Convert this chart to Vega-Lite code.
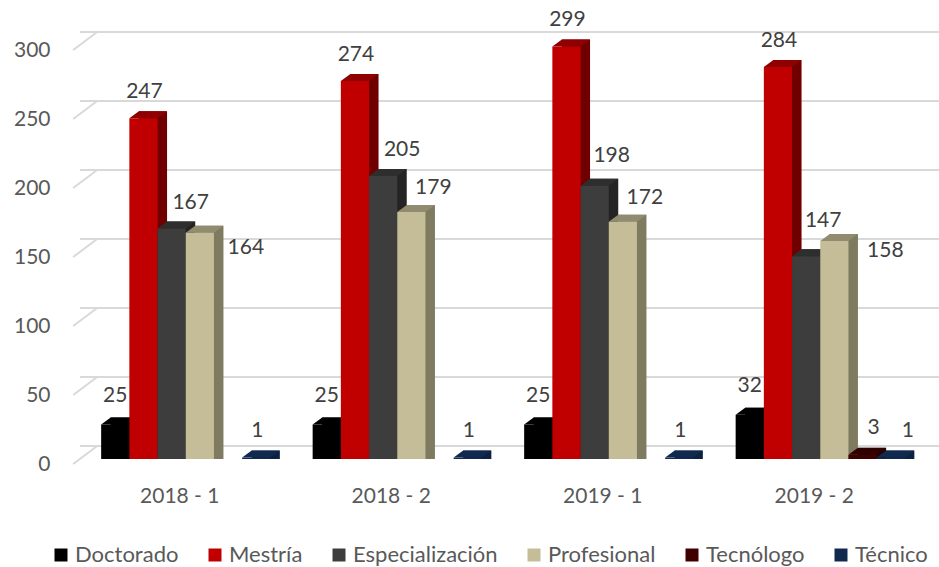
{"$schema":"https://vega.github.io/schema/vega-lite/v6.json","width":846,"height":414,"autosize":"none","padding":{"left":80,"top":45,"right":13,"bottom":108},"background":"white","config":{"view":{"stroke":null},"font":"Lato"},
"datasets":{"rows":[
{"p":"2018 - 1","s":"Doctorado","v":25},{"p":"2018 - 1","s":"Mestría","v":247},{"p":"2018 - 1","s":"Especialización","v":167},{"p":"2018 - 1","s":"Profesional","v":164},{"p":"2018 - 1","s":"Técnico","v":1},
{"p":"2018 - 2","s":"Doctorado","v":25},{"p":"2018 - 2","s":"Mestría","v":274},{"p":"2018 - 2","s":"Especialización","v":205},{"p":"2018 - 2","s":"Profesional","v":179},{"p":"2018 - 2","s":"Técnico","v":1},
{"p":"2019 - 1","s":"Doctorado","v":25},{"p":"2019 - 1","s":"Mestría","v":299},{"p":"2019 - 1","s":"Especialización","v":198},{"p":"2019 - 1","s":"Profesional","v":172},{"p":"2019 - 1","s":"Técnico","v":1},
{"p":"2019 - 2","s":"Doctorado","v":32},{"p":"2019 - 2","s":"Mestría","v":284},{"p":"2019 - 2","s":"Especialización","v":147},{"p":"2019 - 2","s":"Profesional","v":158},{"p":"2019 - 2","s":"Tecnólogo","v":3},{"p":"2019 - 2","s":"Técnico","v":1}],
"grid":[{"g":0},{"g":50},{"g":100},{"g":150},{"g":200},{"g":250},{"g":300}]},
"layer":[
{"data":{"name":"grid"},"mark":{"type":"rule","stroke":"#d9d9d9","strokeWidth":2,"xOffset":17,"x2Offset":9,"yOffset":-13},
 "encoding":{"y":{"field":"g","type":"quantitative","scale":{"domain":[0,300],"nice":false},"axis":{"title":null,"values":[0,50,100,150,200,250,300],"domain":false,"ticks":false,"grid":false,"labelPadding":30,"labelOffset":5,"labelFontSize":21,"labelColor":"#595959","labelFont":"Lato"}}}},
{"data":{"name":"grid"},"mark":{"type":"point","shape":"M-28,5L-4,-13","size":4,"filled":false,"stroke":"#d9d9d9","strokeWidth":2,"opacity":1},
 "encoding":{"x":{"datum":"2018 - 1","type":"nominal","bandPosition":0,"scale":{"domain":["2018 - 1","2018 - 2","2019 - 1","2019 - 2"],"paddingInner":0.2,"paddingOuter":0.1},"axis":{"title":null,"domain":false,"ticks":false,"labelAngle":0,"labelPadding":26,"labelOffset":-6,"labelFontSize":21,"labelColor":"#595959","labelFont":"Lato"}},"y":{"field":"g","type":"quantitative"}}},
{"data":{"name":"rows"},
 "encoding":{"x":{"field":"p","type":"nominal"},"xOffset":{"field":"s","type":"nominal","scale":{"type":"band","domain":["Doctorado","Mestría","Especialización","Profesional","Tecnólogo","Técnico"],"paddingInner":0,"paddingOuter":0}},"y":{"field":"v","type":"quantitative","stack":null}},
 "layer":[
 {"mark":{"type":"bar","yOffset":-7,"y2Offset":-7},"encoding":{"xOffset":{"field":"s","type":"nominal","scale":{"type":"band","domain":["Doctorado","Mestría","Especialización","Profesional","Tecnólogo","Técnico"],"paddingInner":0,"paddingOuter":0,"range":[9.5,178.7]}},"color":{"field":"s","type":"nominal","legend":null,"scale":{"domain":["Doctorado","Mestría","Especialización","Profesional","Tecnólogo","Técnico"],"range":["#000000","#700000","#242424","#7f7b60","#260000","#0d2240"]}}}},
 {"mark":{"type":"point","filled":true,"opacity":1,"size":4,"shape":"M14.1,0L14.1,-7L23.6,-7Z"},"encoding":{"y":{"datum":0,"type":"quantitative"},"color":{"field":"s","type":"nominal","legend":null,"scale":{"domain":["Doctorado","Mestría","Especialización","Profesional","Tecnólogo","Técnico"],"range":["#000000","#700000","#242424","#7f7b60","#260000","#0d2240"]}}}},
 {"mark":{"type":"point","filled":true,"opacity":1,"size":4,"shape":"M-14.1,0L14.1,0L23.6,-7L-4.6,-7Z"},"encoding":{"color":{"field":"s","type":"nominal","legend":null,"scale":{"domain":["Doctorado","Mestría","Especialización","Profesional","Tecnólogo","Técnico"],"range":["#000000","#8f0000","#2e2e2e","#918c70","#300000","#10294f"]}}}},
 {"mark":{"type":"bar"},"encoding":{"color":{"field":"s","type":"nominal","scale":{"domain":["Doctorado","Mestría","Especialización","Profesional","Tecnólogo","Técnico"],"range":["#000000","#c00000","#3d3d3d","#c4bd97","#3f0000","#10294f"]},"legend":{"title":null,"orient":"none","legendX":-30,"legendY":499,"direction":"horizontal","columns":6,"columnPadding":25,"symbolType":"square","symbolSize":169,"symbolStrokeWidth":0,"labelFontSize":22,"labelColor":"#595959","labelFont":"Lato","labelOffset":3,"labelLimit":300}}}},
 {"transform":[{"filter":"datum.s==='Mestría'"}],"mark":{"type":"text","fontSize":21,"color":"#404040","font":"Lato","dx":1,"dy":-26},"encoding":{"text":{"field":"v"}}},
 {"transform":[{"filter":"datum.s==='Doctorado'"}],"mark":{"type":"text","fontSize":21,"color":"#404040","font":"Lato","dx":0,"dy":-29},"encoding":{"text":{"field":"v"}}},
 {"transform":[{"filter":"datum.s==='Técnico' && datum.p!=='2019 - 2'"}],"mark":{"type":"text","fontSize":21,"color":"#404040","font":"Lato","dx":1,"dy":-27},"encoding":{"text":{"field":"v"}}},
 {"transform":[{"filter":"datum.s==='Técnico' && datum.p==='2019 - 2'"}],"mark":{"type":"text","fontSize":21,"color":"#404040","font":"Lato","dx":17,"dy":-27},"encoding":{"text":{"field":"v"}}},
 {"transform":[{"filter":"datum.s==='Tecnólogo'"}],"mark":{"type":"text","fontSize":21,"color":"#404040","font":"Lato","dx":11,"dy":-27},"encoding":{"text":{"field":"v"}}},
 {"transform":[{"filter":"datum.s==='Especialización' && (datum.v===167 || datum.v===205)"}],"mark":{"type":"text","fontSize":21,"color":"#404040","font":"Lato","dx":19,"dy":-26},"encoding":{"text":{"field":"v"}}},
 {"transform":[{"filter":"datum.s==='Especialización' && datum.v===198"}],"mark":{"type":"text","fontSize":21,"color":"#404040","font":"Lato","dx":17,"dy":-30},"encoding":{"text":{"field":"v"}}},
 {"transform":[{"filter":"datum.s==='Especialización' && datum.v===147"}],"mark":{"type":"text","fontSize":21,"color":"#404040","font":"Lato","dx":17,"dy":-35},"encoding":{"text":{"field":"v"}}},
 {"transform":[{"filter":"datum.s==='Profesional' && (datum.v===179 || datum.v===172)"}],"mark":{"type":"text","fontSize":21,"color":"#404040","font":"Lato","dx":22,"dy":-24},"encoding":{"text":{"field":"v"}}},
 {"transform":[{"filter":"datum.s==='Profesional' && datum.v===164"}],"mark":{"type":"text","fontSize":21,"color":"#404040","font":"Lato","dx":46,"dy":15},"encoding":{"text":{"field":"v"}}},
 {"transform":[{"filter":"datum.s==='Profesional' && datum.v===158"}],"mark":{"type":"text","fontSize":21,"color":"#404040","font":"Lato","dx":51,"dy":10},"encoding":{"text":{"field":"v"}}}
 ],
 "resolve":{"scale":{"color":"independent","xOffset":"independent"}}}
]}
